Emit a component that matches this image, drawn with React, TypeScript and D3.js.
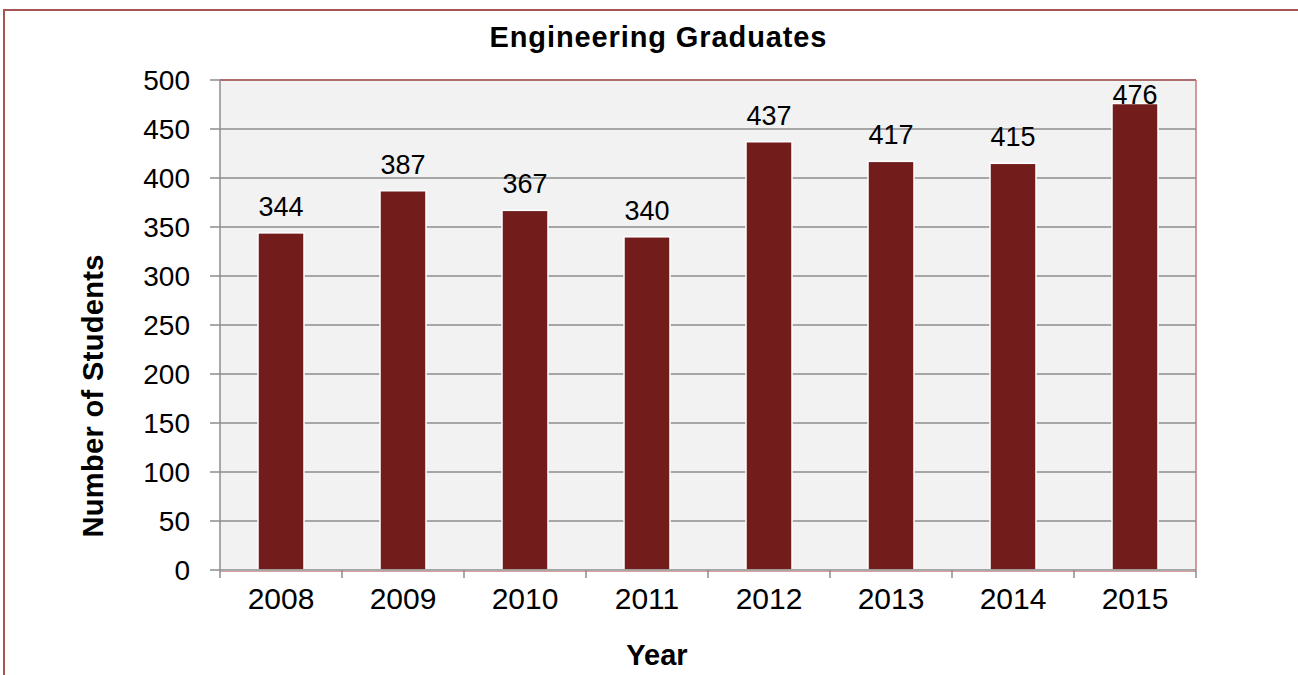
import React from "react";
import * as d3 from "d3";

const years = ["2008", "2009", "2010", "2011", "2012", "2013", "2014", "2015"];
const graduates = [344, 387, 367, 340, 437, 417, 415, 476];
const yTicks = [0, 50, 100, 150, 200, 250, 300, 350, 400, 450, 500];

const W = 1298;
const H = 675;
const M = { left: 220, right: 1196, top: 80, bottom: 570 };

export default function App() {
  const x = d3.scaleBand<string>().domain(years).range([M.left, M.right]).padding(0);
  const y = d3.scaleLinear().domain([0, 500]).range([M.bottom, M.top]);
  const bw = x.bandwidth() * 0.377;
  const sans = "'Liberation Sans', Arial, sans-serif";
  const boundaries = years.map((d) => x(d) as number).concat([M.right]);

  return (
    <svg width={W} height={H} style={{ position: "absolute", left: 0, top: 0, background: "#fff" }}>
      <rect x={4} y={10} width={W + 20} height={H + 20} fill="#fff" stroke="#a65555" strokeWidth={2} />
      <text x={658} y={47} textAnchor="middle" fontFamily={sans} fontWeight="bold" fontSize={29} textLength={337} lengthAdjust="spacing" fill="#000">
        Engineering Graduates
      </text>
      <rect x={M.left} y={M.top} width={M.right - M.left} height={M.bottom - M.top} fill="#f2f2f2" />
      {yTicks.filter((t) => t > 0).map((t) => (
        <line key={"g" + t} x1={M.left} x2={M.right} y1={y(t)} y2={y(t)} stroke="#8c8c8c" strokeWidth={1.5} />
      ))}
      <line x1={M.left} x2={M.right} y1={M.top} y2={M.top} stroke="#b05a5a" strokeWidth={1.5} />
      <line x1={M.right} x2={M.right} y1={M.top} y2={M.bottom} stroke="#c87878" strokeWidth={1.5} />
      <line x1={M.left} x2={M.right} y1={M.bottom + 1.5} y2={M.bottom + 1.5} stroke="#d9a0a0" strokeWidth={1} />
      {years.map((d, i) => {
        const v = graduates[i];
        const cx = (x(d) as number) + x.bandwidth() / 2;
        return (
          <g key={d}>
            <rect x={cx - bw / 2} y={y(v)} width={bw} height={M.bottom - y(v)} fill="#731c1c" stroke="#fff" strokeWidth={1.5} />
            <text x={cx} y={Math.max(y(v) - 17, M.top + 24)} textAnchor="middle" fontFamily={sans} fontSize={27} fill="#000">
              {v}
            </text>
            <text x={cx} y={609} textAnchor="middle" fontFamily={sans} fontSize={30} fill="#000">
              {d}
            </text>
          </g>
        );
      })}
      <line x1={M.left} x2={M.left} y1={M.top} y2={M.bottom} stroke="#8c8c8c" strokeWidth={1.5} />
      <line x1={M.left} x2={M.right} y1={M.bottom} y2={M.bottom} stroke="#8c8c8c" strokeWidth={1.5} />
      {yTicks.map((t) => (
        <g key={"t" + t}>
          <line x1={M.left - 10} x2={M.left} y1={y(t)} y2={y(t)} stroke="#8c8c8c" strokeWidth={1.5} />
          <text x={190} y={y(t)} dy="0.35em" textAnchor="end" fontFamily={sans} fontSize={28} fill="#000">
            {t}
          </text>
        </g>
      ))}
      {boundaries.map((b, i) => (
        <line key={"xt" + i} x1={b} x2={b} y1={M.bottom} y2={M.bottom + 8} stroke="#8c8c8c" strokeWidth={1.5} />
      ))}
      <text transform="translate(103,396) rotate(-90)" textAnchor="middle" fontFamily={sans} fontWeight="bold" fontSize={29} textLength={283} lengthAdjust="spacing" fill="#000">
        Number of Students
      </text>
      <text x={657} y={665} textAnchor="middle" fontFamily={sans} fontWeight="bold" fontSize={29} fill="#000">
        Year
      </text>
    </svg>
  );
}
